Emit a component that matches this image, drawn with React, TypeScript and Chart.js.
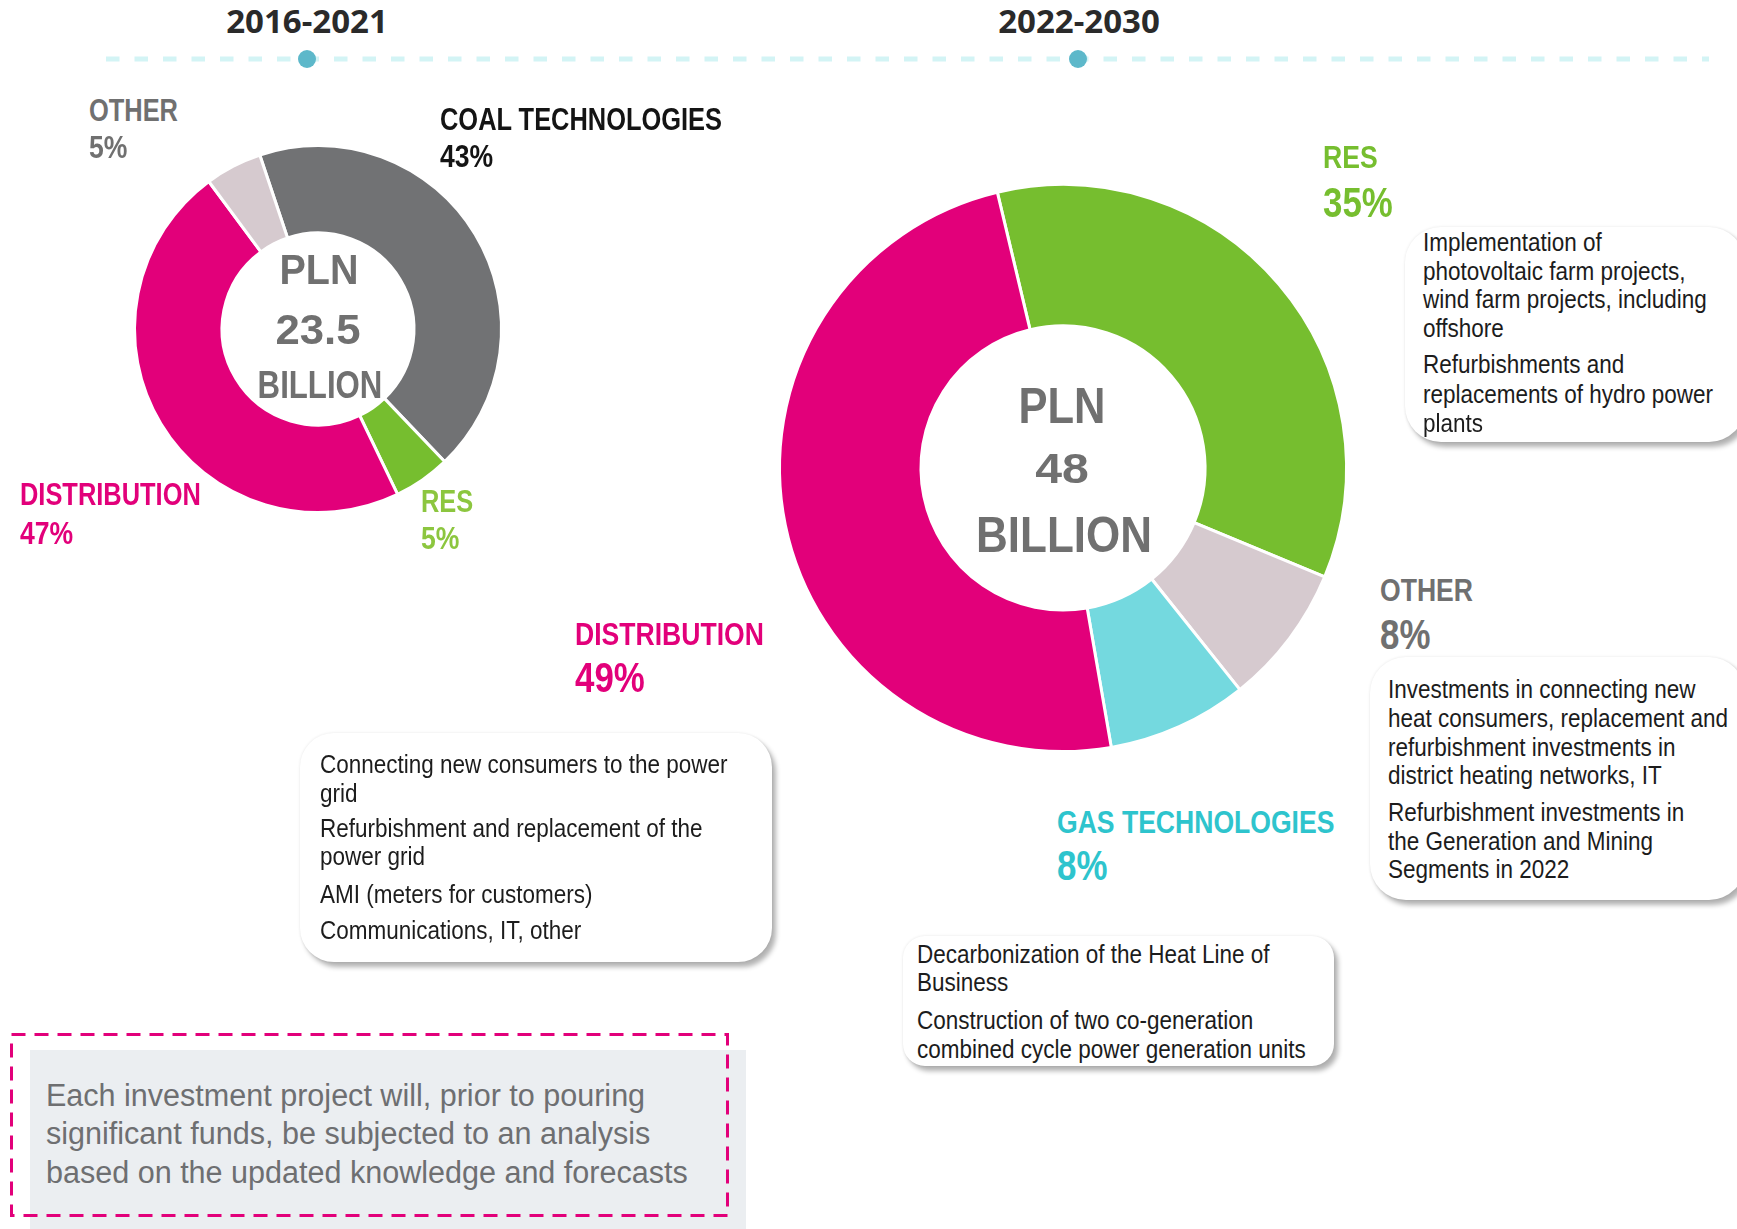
import React, { useEffect, useRef } from "react";
import { Chart, registerables } from "chart.js";
Chart.register(...registerables);

const W = 1737;
const H = 1229;

// ---------- data ----------
const periods = ["2016-2021", "2022-2030"];

const leftCategories = ["COAL TECHNOLOGIES", "RES", "DISTRIBUTION", "OTHER"];
const leftShares = [43, 5, 47, 5];
const leftTotal = ["PLN", "23.5", "BILLION"];

const rightCategories = ["RES", "OTHER", "GAS TECHNOLOGIES", "DISTRIBUTION"];
const rightShares = [35, 8, 8, 49];
const rightTotal = ["PLN", "48", "BILLION"];

const distributionNotes = [
  "Connecting new consumers to the power",
  "grid",
  "Refurbishment and replacement of the",
  "power grid",
  "AMI (meters for customers)",
  "Communications, IT, other",
];
const resNotes = [
  "Implementation of",
  "photovoltaic farm projects,",
  "wind farm projects, including",
  "offshore",
  "Refurbishments and",
  "replacements of hydro power",
  "plants",
];
const otherNotes = [
  "Investments in connecting new",
  "heat consumers, replacement and",
  "refurbishment investments in",
  "district heating networks, IT",
  "Refurbishment investments in",
  "the Generation and Mining",
  "Segments in 2022",
];
const gasNotes = [
  "Decarbonization of the Heat Line of",
  "Business",
  "Construction of two co-generation",
  "combined cycle power generation units",
];
const footNote = [
  "Each investment project will, prior to pouring",
  "significant funds, be subjected to an analysis",
  "based on the updated knowledge and forecasts",
];

// ---------- styles ----------
const MAGENTA = "#E2007A";
const leftColors = ["#717274", "#76BE2F", MAGENTA, "#D6CACF"];
const rightColors = ["#76BE2F", "#D6CACF", "#74D9DF", MAGENTA];

const SANS = '"Liberation Sans", Arial, sans-serif';
const OPEN = '"Open Sans", "Liberation Sans", sans-serif';
const K_LIB = 0.8465; // baseline offset for line-height 1 (Liberation)
const K_OPEN = 0.888; // baseline offset for line-height 1 (Open Sans)

const leftLabelLayout = [
  { x: 440, b1: 130, b2: 167, color: "#141414" },
  { x: 421, b1: 512, b2: 549, color: "#8CC63F" },
  { x: 20, b1: 505, b2: 544, color: MAGENTA },
  { x: 89, b1: 121, b2: 158, color: "#707070" },
];
const rightLabelLayout = [
  { x: 1323, b1: 168, b2: 218, color: "#76BE2F" },
  { x: 1380, b1: 601, b2: 650, color: "#707070" },
  { x: 1057, b1: 833, b2: 881, color: "#2EC4CD" },
  { x: 575, b1: 645, b2: 693, color: MAGENTA },
];

type TProps = {
  x: number;
  baseline: number;
  size: number;
  color: string;
  weight?: number;
  font?: string;
  k?: number;
  center?: boolean;
  spacing?: number;
  sx?: number;
  children: React.ReactNode;
};

function T({ x, baseline, size, color, weight = 400, font = SANS, k = K_LIB, center, spacing = 0, sx = 1, children }: TProps) {
  const top = baseline - k * size;
  const style: React.CSSProperties = {
    position: "absolute",
    top,
    fontFamily: font,
    fontSize: size,
    fontWeight: weight,
    lineHeight: 1,
    color,
    whiteSpace: "pre",
    letterSpacing: spacing,
    transform: `scaleX(${sx})`,
    transformOrigin: center ? "center" : "left",
  };
  if (center) {
    style.left = x - 300;
    style.width = 600;
    style.textAlign = "center";
  } else {
    style.left = x;
  }
  return <div style={style}>{children}</div>;
}

type DonutProps = {
  labels: string[];
  values: number[];
  colors: string[];
  cx: number;
  cy: number;
  size: number;
  radius: number;
  cutout: string;
  rotation: number;
};

function Donut({ labels, values, colors, cx, cy, size, radius, cutout, rotation }: DonutProps) {
  const ref = useRef<HTMLCanvasElement>(null);
  useEffect(() => {
    if (!ref.current) return;
    const chart = new Chart(ref.current, {
      type: "doughnut",
      data: {
        labels,
        datasets: [
          {
            data: values,
            backgroundColor: colors,
            borderColor: "#ffffff",
            borderWidth: 3,
            hoverOffset: 0,
          },
        ],
      },
      options: {
        responsive: false,
        maintainAspectRatio: false,
        animation: false,
        events: [],
        rotation,
        cutout,
        radius,
        layout: { padding: 0 },
        plugins: { legend: { display: false }, tooltip: { enabled: false } },
      } as any,
    });
    return () => chart.destroy();
  }, []);
  return (
    <canvas
      ref={ref}
      width={size}
      height={size}
      style={{ position: "absolute", left: cx - size / 2, top: cy - size / 2, width: size, height: size }}
    />
  );
}

type BoxProps = {
  left: number;
  top: number;
  right: number;
  bottom: number;
  radius: number;
  lines: string[];
  baselines: number[];
  textLeft: number;
};

function NoteBox({ left, top, right, bottom, radius, lines, baselines, textLeft }: BoxProps) {
  return (
    <>
      <div
        style={{
          position: "absolute",
          left,
          top,
          width: right - left,
          height: bottom - top,
          borderRadius: radius,
          background: "#ffffff",
          boxShadow: "4px 5px 5px rgba(0,0,0,0.30), 0 0 3px rgba(0,0,0,0.10)",
        }}
      />
      {lines.map((l, i) => (
        <T key={i} x={textLeft} baseline={baselines[i]} size={26} color="#1c1c1c" sx={0.865}>
          {l}
        </T>
      ))}
    </>
  );
}

export default function App() {
  return (
    <div
      style={{
        position: "absolute",
        left: 0,
        top: 0,
        width: W,
        height: H,
        overflow: "hidden",
        background: "#ffffff",
      }}
    >
      {/* footnote background */}
      <div style={{ position: "absolute", left: 30, top: 1050, width: 716, height: 179, background: "#EBEEF1" }} />

      <svg width={W} height={H} style={{ position: "absolute", left: 0, top: 0 }}>
        <line x1={106} y1={59} x2={1709} y2={59} stroke="#D3F4F5" strokeWidth={5} strokeDasharray="13.5 15" />
        <circle cx={307} cy={59} r={9} fill="#5DB8CA" />
        <circle cx={1078} cy={59} r={9} fill="#5DB8CA" />
        <rect x={11.5} y={1034.5} width={716} height={181} fill="none" stroke={MAGENTA} strokeWidth={3} strokeDasharray="14 9" />
      </svg>

      {/* period titles */}
      <T x={307} baseline={33} size={33} weight={700} font={OPEN} k={K_OPEN} color="#2a2a2a" center>
        {periods[0]}
      </T>
      <T x={1079} baseline={33} size={33} weight={700} font={OPEN} k={K_OPEN} color="#2a2a2a" center>
        {periods[1]}
      </T>

      <Donut
        labels={leftCategories}
        values={leftShares}
        colors={leftColors}
        cx={318}
        cy={329}
        size={400}
        radius={183.5}
        cutout="52.3%"
        rotation={-18.5}
      />
      <Donut
        labels={rightCategories}
        values={rightShares}
        colors={rightColors}
        cx={1063}
        cy={467.5}
        size={600}
        radius={283.5}
        cutout="50.1%"
        rotation={-13.4}
      />

      {/* center totals */}
      <T x={318.5} baseline={285} size={42} weight={700} color="#707070" center sx={0.94}>{leftTotal[0]}</T>
      <T x={318} baseline={345} size={42} weight={700} color="#707070" center sx={1.04}>{leftTotal[1]}</T>
      <T x={319.5} baseline={398} size={39} weight={700} color="#707070" center sx={0.8}>{leftTotal[2]}</T>

      <T x={1061.5} baseline={423} size={50} weight={700} color="#707070" center sx={0.87}>{rightTotal[0]}</T>
      <T x={1061.5} baseline={483} size={43} weight={700} color="#707070" center sx={1.12}>{rightTotal[1]}</T>
      <T x={1063.5} baseline={552} size={50} weight={700} color="#707070" center sx={0.88}>{rightTotal[2]}</T>

      {/* category labels */}
      {leftCategories.map((c, i) => (
        <React.Fragment key={"l" + i}>
          <T x={leftLabelLayout[i].x} baseline={leftLabelLayout[i].b1} size={31} weight={700} sx={0.82} color={leftLabelLayout[i].color}>{c}</T>
          <T x={leftLabelLayout[i].x} baseline={leftLabelLayout[i].b2} size={32} weight={700} sx={0.83} color={leftLabelLayout[i].color}>{leftShares[i] + "%"}</T>
        </React.Fragment>
      ))}
      {rightCategories.map((c, i) => (
        <React.Fragment key={"r" + i}>
          <T x={rightLabelLayout[i].x} baseline={rightLabelLayout[i].b1} size={32} weight={700} sx={0.83} color={rightLabelLayout[i].color}>{c}</T>
          <T x={rightLabelLayout[i].x} baseline={rightLabelLayout[i].b2} size={42} weight={700} sx={0.83} color={rightLabelLayout[i].color}>{rightShares[i] + "%"}</T>
        </React.Fragment>
      ))}

      {/* note boxes */}
      <NoteBox left={300} top={733} right={772} bottom={962} radius={34} lines={distributionNotes}
        baselines={[773, 802, 837, 865, 903, 939]} textLeft={320} />
      <NoteBox left={1405} top={227} right={1745} bottom={442} radius={36} lines={resNotes}
        baselines={[251, 280, 308, 337, 373, 403, 432]} textLeft={1423} />
      <NoteBox left={1370} top={657} right={1745} bottom={900} radius={36} lines={otherNotes}
        baselines={[698, 727, 756, 784, 821, 850, 878]} textLeft={1388} />
      <NoteBox left={903} top={936} right={1334} bottom={1066} radius={22} lines={gasNotes}
        baselines={[963, 991, 1029, 1058]} textLeft={917} />

      {/* footnote */}
      {footNote.map((l, i) => (
        <T key={"f" + i} x={46} baseline={[1106, 1144, 1183][i]} size={31} color="#6E6F71" sx={0.985}>
          {l}
        </T>
      ))}
    </div>
  );
}
